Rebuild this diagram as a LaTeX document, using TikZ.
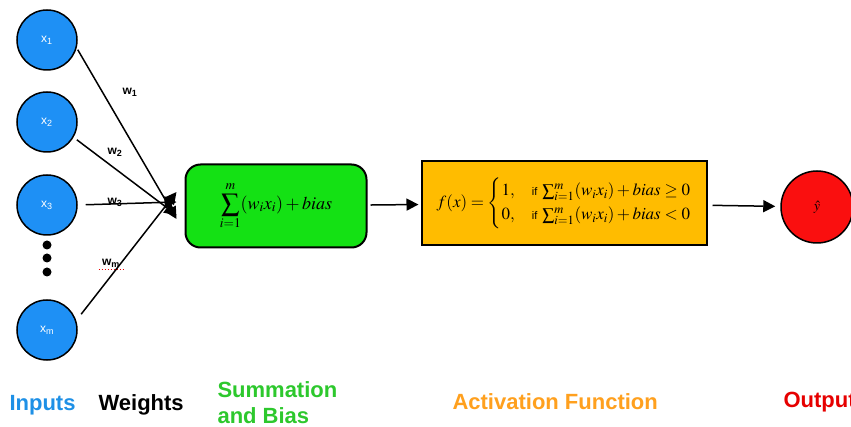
\documentclass[tikz,border=0pt]{standalone}
\usepackage{amsmath}
\usepackage{mathptmx}
\usepackage[no-math]{fontspec}
\setmainfont{Liberation Sans}
\usetikzlibrary{arrows.meta}
\definecolor{inblue}{RGB}{30,144,245}
\definecolor{sumgreen}{RGB}{20,225,20}
\definecolor{actorange}{RGB}{255,188,0}
\definecolor{outred}{RGB}{250,15,15}
\definecolor{lblblue}{RGB}{30,144,230}
\definecolor{lblgreen}{RGB}{45,200,45}
\definecolor{lblorange}{RGB}{255,160,30}
\definecolor{lblred}{RGB}{230,0,0}
\newcommand{\iftxt}{\text{\fontsize{11}{13}\selectfont if }}
\tikzset{
  inputnode/.style={draw, circle, line width=1.5pt, fill=inblue, minimum size=60pt,
    text=white, font=\fontsize{12}{14}\selectfont, inner sep=0pt},
  weightlbl/.style={font=\bfseries\fontsize{12}{14}\selectfont},
  flow/.style={-{Triangle[length=12pt,width=12pt]}, line width=1.5pt},
  caption/.style={font=\bfseries\fontsize{22}{26}\selectfont, anchor=west}
}
\begin{document}
\begin{tikzpicture}[x=1pt, y=-1pt]
  \useasboundingbox (0,0) rectangle (851,427);
  \begin{scope}
    \clip (0,0) rectangle (851,427);

    % inputs
    \node[inputnode] (x1) at (47,40) {x\textsubscript{1}};
    \node[inputnode] (x2) at (47,122) {x\textsubscript{2}};
    \node[inputnode] (x3) at (47,205) {x\textsubscript{3}};
    \node[inputnode] (xm) at (47,330) {x\textsubscript{m}};
    \foreach \y [count=\i] in {245,258,272}
      \fill (47,\y) circle (4.5pt) coordinate (dot\i);

    % summation and activation
    \node[draw, rectangle, rounded corners=15pt, line width=2pt, fill=sumgreen,
      minimum width=181pt, minimum height=83pt, font=\fontsize{18}{21}\selectfont] (sum) at (276,206)
      {$\displaystyle\sum_{i=1}^{m}(w_i x_i)+bias$};
    \node[draw, rectangle, line width=2pt, fill=actorange,
      minimum width=285pt, minimum height=84pt, font=\fontsize{17}{20}\selectfont] (act) at (564,203)
      {$f(x)=\begin{cases}1, & \iftxt\sum_{i=1}^{m}(w_i x_i)+bias\geq 0\\
        0, & \iftxt\sum_{i=1}^{m}(w_i x_i)+bias<0\end{cases}$};
    \node[draw, circle, line width=1.5pt, fill=outred, minimum size=72pt,
      font=\fontsize{14}{16}\selectfont] (out) at (817,207) {$\hat{y}$};

    % weighted connections
    \draw[flow, shorten <=2pt] (x1.-15) -- ([xshift=-8pt,yshift=-13pt]sum.west);
    \draw[flow, shorten <=4pt] (x2.-30) -- ([xshift=-8pt,yshift=-9pt]sum.west);
    \draw[flow, shorten <=8pt] (x3.east) -- ([xshift=-8pt,yshift=4pt]sum.west);
    \draw[flow, shorten <=8pt] (xm.18) -- ([xshift=-8pt,yshift=14pt]sum.west);
    \draw[flow, shorten <=3pt, shorten >=2pt] (sum) -- (act);
    \draw[flow, shorten <=5pt, shorten >=5pt] (act) -- (out);

    \node[weightlbl] (w1) at (130,92) {w\textsubscript{1}};
    \node[weightlbl] (w2) at (115,152) {w\textsubscript{2}};
    \node[weightlbl] (w3) at (115,202) {w\textsubscript{3}};
    \node[weightlbl] (wm) at (111,263) {w\textsubscript{m}};
    \draw[lblred, dotted, line width=1pt] ([yshift=1pt]wm.south west) -- ([yshift=1pt]wm.south east);

    % captions
    \node[caption, text=lblblue] (inputs) at (6,405) {Inputs};
    \node[caption] (weights) at (95,405) {Weights};
    \node[caption, text=lblgreen, align=left] (summ) at (214,403) {Summation\\and Bias};
    \node[caption, text=lblorange] (actlbl) at (449,402) {Activation Function};
    \node[caption, text=lblred] (outlbl) at (780,402) {Output};
  \end{scope}
\end{tikzpicture}
\end{document}
